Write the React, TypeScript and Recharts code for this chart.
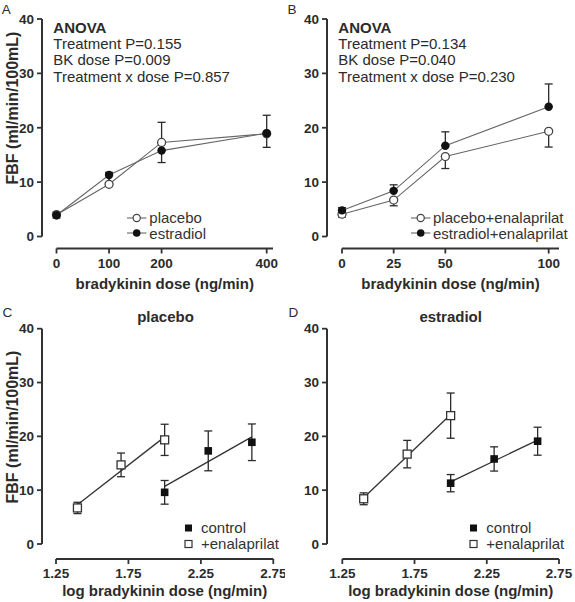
import React from 'react';
import { ComposedChart, Line, XAxis, YAxis, ErrorBar, Legend } from 'recharts';

const FONT = '"Liberation Sans", Arial, Helvetica, sans-serif';
const INK = '#2b2b2b';
const LINE_GRAY = '#666666';

// ---------- Panel A: bradykinin dose (ng/min) ----------
const doseA = [0, 100, 200, 400];
const ticksA = [0, 100, 200, 400];
const placeboA = [4.0, 9.6, 17.3, 18.9];
const placeboAErr = [0.5, 2.2, 3.7, 3.4];
const estradiolA = [3.9, 11.3, 15.8, 19.0];
const estradiolAErr = [0.5, 1.6, 2.2, 2.6];

// ---------- Panel B: bradykinin dose (ng/min) with enalaprilat ----------
const doseB = [0, 25, 50, 100];
const ticksB = [0, 25, 50, 100];
const placeboEnalB = [4.1, 6.7, 14.7, 19.35];
const placeboEnalBErr = [0.5, 1.05, 2.2, 2.9];
const estradiolEnalB = [4.8, 8.4, 16.7, 23.85];
const estradiolEnalBErr = [0.5, 1.1, 2.55, 4.2];

// ---------- shared ----------
const yTicks = [0, 10, 20, 30, 40];
const logTicks = [1.25, 1.75, 2.25, 2.75];
const logControl = [2.0, 2.301, 2.602];
const logEnal = [1.398, 1.699, 2.0];

// ---------- Panel C: placebo ----------
const placeboControl = [9.6, 17.3, 18.9];
const placeboControlErr = [2.2, 3.7, 3.4];
const placeboEnal = [6.7, 14.7, 19.35];
const placeboEnalErr = [1.05, 2.2, 2.9];
const placeboControlFit = [10.7, 19.9];
const placeboEnalFit = [7.3, 19.9];

// ---------- Panel D: estradiol ----------
const estradiolControl = [11.3, 15.8, 19.1];
const estradiolControlErr = [1.6, 2.25, 2.6];
const estradiolEnal = [8.4, 16.7, 23.85];
const estradiolEnalErr = [1.1, 2.55, 4.2];
const estradiolControlFit = [11.55, 19.3];
const estradiolEnalFit = [8.6, 24.05];

// ---------- data tables ----------
const rowsA = doseA.map((x, i) => ({
  x,
  placebo: placeboA[i],
  placeboErr: [0, placeboAErr[i]],
  estradiol: estradiolA[i],
  estradiolErr: [estradiolAErr[i], 0],
}));
const rowsB = doseB.map((x, i) => ({
  x,
  placebo: placeboEnalB[i],
  placeboErr: [placeboEnalBErr[i], 0],
  estradiol: estradiolEnalB[i],
  estradiolErr: [0, estradiolEnalBErr[i]],
}));
const pts = (xs: number[], ys: number[], es: number[]) =>
  xs.map((x, i) => ({ x, y: ys[i], err: es[i] }));
const fit = (xs: number[], ends: number[]) => [
  { x: xs[0], y: ends[0] },
  { x: xs[xs.length - 1], y: ends[1] },
];

// ---------- markers ----------
const ok = (p: any) => typeof p.cx === 'number' && typeof p.cy === 'number' && !isNaN(p.cx) && !isNaN(p.cy);
const OpenCircle = (p: any) =>
  ok(p) ? <circle key={`oc-${p.index}`} cx={p.cx} cy={p.cy} r={4} fill="#fff" stroke="#444" strokeWidth={1.3} /> : <g key={`oc-${p.index}`} />;
const FilledCircle = (p: any) =>
  ok(p) ? <circle key={`fc-${p.index}`} cx={p.cx} cy={p.cy} r={4.2} fill="#111" /> : <g key={`fc-${p.index}`} />;
const OpenSquare = (p: any) =>
  ok(p) ? <rect key={`os-${p.index}`} x={p.cx - 4} y={p.cy - 4} width={8} height={8} fill="#fff" stroke="#333" strokeWidth={1.3} /> : <g key={`os-${p.index}`} />;
const FilledSquare = (p: any) =>
  ok(p) ? <rect key={`fs-${p.index}`} x={p.cx - 3.8} y={p.cy - 3.8} width={7.6} height={7.6} fill="#111" /> : <g key={`fs-${p.index}`} />;

// ---------- legend ----------
type IconKind = 'oc' | 'fc' | 'os' | 'fs';
const LegendIcon = ({ kind }: { kind: IconKind }) => {
  if (kind === 'oc' || kind === 'fc') {
    return (
      <svg width={22} height={12} style={{ display: 'block', flex: 'none' }}>
        <line x1={0} y1={6} x2={19.4} y2={6} stroke={LINE_GRAY} strokeWidth={1.1} />
        {kind === 'oc' ? (
          <circle cx={9.7} cy={6} r={3.6} fill="#fff" stroke="#444" strokeWidth={1.2} />
        ) : (
          <circle cx={9.7} cy={6} r={3.8} fill="#111" />
        )}
      </svg>
    );
  }
  return (
    <svg width={17.5} height={12} style={{ display: 'block', flex: 'none' }}>
      {kind === 'os' ? (
        <rect x={1} y={2.5} width={7} height={7} fill="#fff" stroke="#333" strokeWidth={1.2} />
      ) : (
        <rect x={1} y={2.5} width={7} height={7} fill="#111" />
      )}
    </svg>
  );
};
const makeLegend = (order: string[], icons: IconKind[], rowH: number) => (props: any) => {
  const entries = props.payload || [];
  const items = order
    .map((name, i) => ({ entry: entries.find((e: any) => e.value === name), kind: icons[i] }))
    .filter((it) => it.entry);
  return (
    <div style={{ fontFamily: FONT, fontSize: 15, color: '#333', lineHeight: `${rowH}px` }}>
      {items.map((it: any) => (
        <div key={it.entry.value} style={{ display: 'flex', alignItems: 'center', height: rowH, whiteSpace: 'nowrap' }}>
          <LegendIcon kind={it.kind} />
          <span>{it.entry.value}</span>
        </div>
      ))}
    </div>
  );
};
const legendA = makeLegend(['placebo', 'estradiol'], ['oc', 'fc'], 15.6);
const legendB = makeLegend(['placebo+enalaprilat', 'estradiol+enalaprilat'], ['oc', 'fc'], 15.6);
const legendCD = makeLegend(['control', '+enalaprilat'], ['fs', 'os'], 15.6);

// ---------- axis styles ----------
const tickText = { fontSize: 13.5, fontWeight: 700, fill: INK, fontFamily: FONT };
const axisLine = { stroke: '#333', strokeWidth: 2 };
const tickLine = { stroke: '#333', strokeWidth: 1.8 };
const yTick = (dx: number) => (p: any) => (
  <text key={`yt-${p.index}`} x={p.x + dx} y={p.y} dy="0.355em" textAnchor="end" {...tickText}>
    {p.payload.value}
  </text>
);
const xTick = (dy: number) => (p: any) => (
  <text key={`xt-${p.index}`} x={p.x} y={p.y + dy} dy="0.71em" textAnchor="middle" {...tickText}>
    {p.payload.value}
  </text>
);
const xLabel = (value: string, shift: number) => ({
  value,
  position: 'insideBottom' as const,
  offset: -shift,
  fontSize: 15,
  fontWeight: 700,
  fill: INK,
  fontFamily: FONT,
});

const css = `
.pA .recharts-yAxis { transform: translate(-14.5px, 0px); }
.pA .recharts-xAxis { transform: translate(0px, 12px); }
.pB .recharts-yAxis { transform: translate(-15px, 0px); }
.pB .recharts-xAxis { transform: translate(0px, 12px); }
.pC .recharts-yAxis { transform: translate(-14px, 0px); }
.pC .recharts-xAxis { transform: translate(0px, 15px); }
.pD .recharts-yAxis { transform: translate(-15.3px, 0px); }
.pD .recharts-xAxis { transform: translate(0px, 15px); }
`;

const ebProps = { width: 4, strokeWidth: 1.3, stroke: INK, direction: 'y' as const };

export default function App() {
  return (
    <div style={{ position: 'absolute', left: 0, top: 0, width: 575, height: 602, background: '#fff', overflow: 'hidden' }}>
      <style>{css}</style>

      {/* Panel A */}
      <div className="pA" style={{ position: 'absolute', left: 0, top: 0 }}>
        <ComposedChart width={285} height={300} data={rowsA} margin={{ top: 19, right: 12, bottom: 23.5, left: 16.5 }}>
          <XAxis type="number" dataKey="x" domain={[0, 412]} ticks={ticksA} interval={0} tick={xTick(12)}
            tickSize={5} tickMargin={5} axisLine={axisLine} tickLine={tickLine} height={40}
            label={xLabel('bradykinin dose (ng/min)', 12)} />
          <YAxis type="number" domain={[0, 40]} ticks={yTicks} interval={0} tick={yTick(-14.5)}
            tickSize={5} tickMargin={3} axisLine={axisLine} tickLine={tickLine} width={40} />
          <Line type="linear" dataKey="placebo" name="placebo" stroke={LINE_GRAY} strokeWidth={1.1}
            dot={OpenCircle} activeDot={false} isAnimationActive={false}>
            <ErrorBar dataKey="placeboErr" {...ebProps} />
          </Line>
          <Line type="linear" dataKey="estradiol" name="estradiol" stroke={LINE_GRAY} strokeWidth={1.1}
            dot={FilledCircle} activeDot={false} isAnimationActive={false}>
            <ErrorBar dataKey="estradiolErr" {...ebProps} />
          </Line>
          <Legend layout="vertical" align="center" verticalAlign="middle" content={legendA}
            wrapperStyle={{ left: 127.3, top: 210, width: 'auto', height: 'auto' }} />
        </ComposedChart>
      </div>

      {/* Panel B */}
      <div className="pB" style={{ position: 'absolute', left: 285, top: 0 }}>
        <ComposedChart width={290} height={300} data={rowsB} margin={{ top: 19, right: 16, bottom: 23.5, left: 17 }}>
          <XAxis type="number" dataKey="x" domain={[0, 105]} ticks={ticksB} interval={0} tick={xTick(12)}
            tickSize={5} tickMargin={5} axisLine={axisLine} tickLine={tickLine} height={40}
            label={xLabel('bradykinin dose (ng/min)', 12)} />
          <YAxis type="number" domain={[0, 40]} ticks={yTicks} interval={0} tick={yTick(-15)}
            tickSize={5} tickMargin={3} axisLine={axisLine} tickLine={tickLine} width={40} />
          <Line type="linear" dataKey="placebo" name="placebo+enalaprilat" stroke={LINE_GRAY} strokeWidth={1.1}
            dot={OpenCircle} activeDot={false} isAnimationActive={false}>
            <ErrorBar dataKey="placeboErr" {...ebProps} />
          </Line>
          <Line type="linear" dataKey="estradiol" name="estradiol+enalaprilat" stroke={LINE_GRAY} strokeWidth={1.1}
            dot={FilledCircle} activeDot={false} isAnimationActive={false}>
            <ErrorBar dataKey="estradiolErr" {...ebProps} />
          </Line>
          <Legend layout="vertical" align="center" verticalAlign="middle" content={legendB}
            wrapperStyle={{ left: 126, top: 210, width: 'auto', height: 'auto' }} />
        </ComposedChart>
      </div>

      {/* Panel C */}
      <div className="pC" style={{ position: 'absolute', left: 0, top: 300 }}>
        <ComposedChart width={285} height={302} margin={{ top: 28.7, right: 11.7, bottom: 23.7, left: 16 }}>
          <XAxis type="number" dataKey="x" domain={[1.25, 2.75]} ticks={logTicks} interval={0} tick={xTick(15)}
            tickSize={5} tickMargin={4} axisLine={axisLine} tickLine={tickLine} height={34.3}
            label={xLabel('log bradykinin dose (ng/min)', 17.2)} />
          <YAxis type="number" domain={[0, 40]} ticks={yTicks} interval={0} tick={yTick(-14)}
            tickSize={5} tickMargin={3} axisLine={axisLine} tickLine={tickLine} width={40} />
          <Line data={fit(logEnal, placeboEnalFit)} type="linear" dataKey="y" name="fit-enal" stroke="#333"
            strokeWidth={1.3} dot={false} activeDot={false} legendType="none" isAnimationActive={false} />
          <Line data={fit(logControl, placeboControlFit)} type="linear" dataKey="y" name="fit-control" stroke="#333"
            strokeWidth={1.3} dot={false} activeDot={false} legendType="none" isAnimationActive={false} />
          <Line data={pts(logControl, placeboControl, placeboControlErr)} type="linear" dataKey="y" name="control"
            stroke="none" dot={FilledSquare} activeDot={false} isAnimationActive={false}>
            <ErrorBar dataKey="err" {...ebProps} />
          </Line>
          <Line data={pts(logEnal, placeboEnal, placeboEnalErr)} type="linear" dataKey="y" name="+enalaprilat"
            stroke="none" dot={OpenSquare} activeDot={false} isAnimationActive={false}>
            <ErrorBar dataKey="err" {...ebProps} />
          </Line>
          <Legend layout="vertical" align="center" verticalAlign="middle" content={legendCD}
            wrapperStyle={{ left: 183.5, top: 220.3, width: 'auto', height: 'auto' }} />
        </ComposedChart>
      </div>

      {/* Panel D */}
      <div className="pD" style={{ position: 'absolute', left: 285, top: 300 }}>
        <ComposedChart width={290} height={302} margin={{ top: 28.7, right: 16, bottom: 23.7, left: 17.3 }}>
          <XAxis type="number" dataKey="x" domain={[1.25, 2.75]} ticks={logTicks} interval={0} tick={xTick(15)}
            tickSize={5} tickMargin={4} axisLine={axisLine} tickLine={tickLine} height={34.3}
            label={xLabel('log bradykinin dose (ng/min)', 17.2)} />
          <YAxis type="number" domain={[0, 40]} ticks={yTicks} interval={0} tick={yTick(-15.3)}
            tickSize={5} tickMargin={3} axisLine={axisLine} tickLine={tickLine} width={40} />
          <Line data={fit(logEnal, estradiolEnalFit)} type="linear" dataKey="y" name="fit-enal" stroke="#333"
            strokeWidth={1.3} dot={false} activeDot={false} legendType="none" isAnimationActive={false} />
          <Line data={fit(logControl, estradiolControlFit)} type="linear" dataKey="y" name="fit-control" stroke="#333"
            strokeWidth={1.3} dot={false} activeDot={false} legendType="none" isAnimationActive={false} />
          <Line data={pts(logControl, estradiolControl, estradiolControlErr)} type="linear" dataKey="y" name="control"
            stroke="none" dot={FilledSquare} activeDot={false} isAnimationActive={false}>
            <ErrorBar dataKey="err" {...ebProps} />
          </Line>
          <Line data={pts(logEnal, estradiolEnal, estradiolEnalErr)} type="linear" dataKey="y" name="+enalaprilat"
            stroke="none" dot={OpenSquare} activeDot={false} isAnimationActive={false}>
            <ErrorBar dataKey="err" {...ebProps} />
          </Line>
          <Legend layout="vertical" align="center" verticalAlign="middle" content={legendCD}
            wrapperStyle={{ left: 183.8, top: 220.3, width: 'auto', height: 'auto' }} />
        </ComposedChart>
      </div>

      {/* Annotations */}
      <svg width={575} height={602} style={{ position: 'absolute', left: 0, top: 0, pointerEvents: 'none' }}
        fontFamily={FONT} fill={INK}>
        <text x={1.7} y={13.5} fontSize={13.5}>A</text>
        <text x={287.5} y={13.5} fontSize={13.5}>B</text>
        <text x={2.5} y={316.7} fontSize={13.5}>C</text>
        <text x={288.5} y={316.7} fontSize={13.5}>D</text>

        <text x={12} y={108} fontSize={16} fontWeight={700} textAnchor="middle" dominantBaseline="central"
          transform="rotate(-90 12 108)">FBF (ml/min/100mL)</text>
        <text x={12} y={427} fontSize={16} fontWeight={700} textAnchor="middle" dominantBaseline="central"
          transform="rotate(-90 12 427)">FBF (ml/min/100mL)</text>

        <text x={53.3} y={32.7} fontSize={15} fontWeight={700}>ANOVA</text>
        <text x={53.3} y={48.7} fontSize={15}>Treatment P=0.155</text>
        <text x={53.3} y={65} fontSize={15}>BK dose P=0.009</text>
        <text x={53.3} y={81.5} fontSize={15}>Treatment x dose P=0.857</text>

        <text x={338.3} y={32.7} fontSize={15} fontWeight={700}>ANOVA</text>
        <text x={338.3} y={48.7} fontSize={15}>Treatment P=0.134</text>
        <text x={338.3} y={65} fontSize={15}>BK dose P=0.040</text>
        <text x={338.3} y={81.5} fontSize={15}>Treatment x dose P=0.230</text>

        <text x={165.5} y={321.7} fontSize={15} fontWeight={700} textAnchor="middle">placebo</text>
        <text x={450.7} y={321.7} fontSize={15} fontWeight={700} textAnchor="middle">estradiol</text>
      </svg>
    </div>
  );
}
